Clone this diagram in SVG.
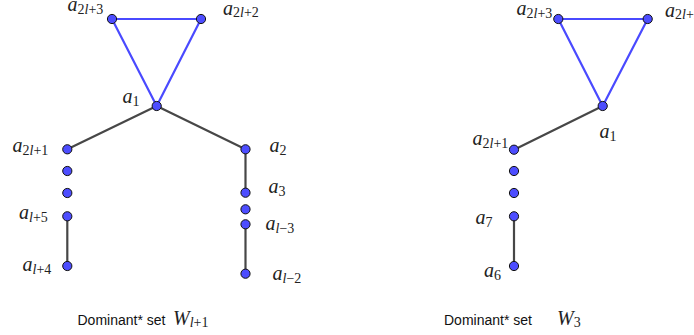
<svg xmlns="http://www.w3.org/2000/svg" width="694" height="335" viewBox="0 0 694 335">
<style>
.bg{fill:#fff}
.be{stroke:#4a4aff;stroke-width:2.2;fill:none;stroke-linecap:round}
.ge{stroke:#474747;stroke-width:2.2;fill:none;stroke-linecap:round}
.nd{fill:#4d4dff;stroke:#111;stroke-width:1}
.m{font-family:"Liberation Serif","Times New Roman",serif;font-size:20px;fill:#222}
.m .i{font-style:italic}
.m .s{font-size:14px}
.t{font-family:"Liberation Sans",Arial,sans-serif;font-size:14px;fill:#111}
</style>
<rect class="bg" x="0" y="0" width="694" height="335"/>
<g id="connectors">
  <line class="be" x1="112" y1="19" x2="201" y2="19"/>
  <line class="be" x1="112" y1="19" x2="156.7" y2="106"/>
  <line class="be" x1="201" y1="19" x2="156.7" y2="106"/>
  <line class="ge" x1="156.7" y1="106" x2="67.3" y2="149.3"/>
  <line class="ge" x1="156.7" y1="106" x2="245.5" y2="149.3"/>
  <line class="ge" x1="245.5" y1="149.3" x2="245.5" y2="192.7"/>
  <line class="ge" x1="245.5" y1="224.3" x2="245.5" y2="273.7"/>
  <line class="ge" x1="67.3" y1="216.3" x2="67.3" y2="266"/>
  <line class="be" x1="558.3" y1="19" x2="647.7" y2="19"/>
  <line class="be" x1="558.3" y1="19" x2="602.7" y2="106"/>
  <line class="be" x1="647.7" y1="19" x2="602.7" y2="106"/>
  <line class="ge" x1="602.7" y1="106" x2="514" y2="149.7"/>
  <line class="ge" x1="514" y1="216.3" x2="514" y2="266"/>
</g>
<g id="left-a2l3"><circle class="nd" cx="112" cy="19" r="4.6"/><text class="m" x="67.5" y="11"><tspan class="i">a</tspan><tspan class="s" dy="2.5">2<tspan class="i">l</tspan>+3</tspan></text></g>
<g id="left-a2l2"><circle class="nd" cx="201" cy="19" r="4.6"/><text class="m" x="223" y="14.5"><tspan class="i">a</tspan><tspan class="s" dy="2.5">2<tspan class="i">l</tspan>+2</tspan></text></g>
<g id="left-a1"><circle class="nd" cx="156.7" cy="106" r="4.6"/><text class="m" x="122.5" y="103"><tspan class="i">a</tspan><tspan class="s" dy="2.5">1</tspan></text></g>
<g id="left-a2l1"><circle class="nd" cx="67.3" cy="149.3" r="4.6"/><text class="m" x="12.5" y="152"><tspan class="i">a</tspan><tspan class="s" dy="2.5">2<tspan class="i">l</tspan>+1</tspan></text></g>
<g id="left-dot1"><circle class="nd" cx="67.3" cy="171" r="4.6"/></g>
<g id="left-dot2"><circle class="nd" cx="67.3" cy="193" r="4.6"/></g>
<g id="left-al5"><circle class="nd" cx="67.3" cy="216.3" r="4.6"/><text class="m" x="19" y="219"><tspan class="i">a</tspan><tspan class="s" dy="2.5"><tspan class="i">l</tspan>+5</tspan></text></g>
<g id="left-al4"><circle class="nd" cx="67.3" cy="266" r="4.6"/><text class="m" x="22.5" y="271"><tspan class="i">a</tspan><tspan class="s" dy="2.5"><tspan class="i">l</tspan>+4</tspan></text></g>
<g id="left-a2"><circle class="nd" cx="245.5" cy="149.3" r="4.6"/><text class="m" x="269.5" y="152"><tspan class="i">a</tspan><tspan class="s" dy="2.5">2</tspan></text></g>
<g id="left-a3"><circle class="nd" cx="245.5" cy="192.7" r="4.6"/><text class="m" x="268.5" y="193"><tspan class="i">a</tspan><tspan class="s" dy="2.5">3</tspan></text></g>
<g id="left-dot3"><circle class="nd" cx="245.5" cy="209.3" r="4.6"/></g>
<g id="left-al3"><circle class="nd" cx="245.5" cy="224.3" r="4.6"/><text class="m" x="265.5" y="230"><tspan class="i">a</tspan><tspan class="s" dy="2.5"><tspan class="i">l</tspan>−3</tspan></text></g>
<g id="left-al2"><circle class="nd" cx="245.5" cy="273.7" r="4.6"/><text class="m" x="272.5" y="280"><tspan class="i">a</tspan><tspan class="s" dy="2.5"><tspan class="i">l</tspan>−2</tspan></text></g>
<g id="left-caption"><text class="t" x="77.5" y="325">Dominant* set</text><text class="m" x="173" y="324.5"><tspan class="i">W</tspan><tspan class="s" dy="2.5"><tspan class="i">l</tspan>+1</tspan></text></g>
<g id="right-a2l3"><circle class="nd" cx="558.3" cy="19" r="4.6"/><text class="m" x="516.5" y="15"><tspan class="i">a</tspan><tspan class="s" dy="2.5">2<tspan class="i">l</tspan>+3</tspan></text></g>
<g id="right-a2l2"><circle class="nd" cx="647.7" cy="19" r="4.6"/><text class="m" x="665" y="16.5"><tspan class="i">a</tspan><tspan class="s" dy="2.5">2<tspan class="i">l</tspan>+2</tspan></text></g>
<g id="right-a1"><circle class="nd" cx="602.7" cy="106" r="4.6"/><text class="m" x="599.5" y="138"><tspan class="i">a</tspan><tspan class="s" dy="2.5">1</tspan></text></g>
<g id="right-a2l1"><circle class="nd" cx="514" cy="149.7" r="4.6"/><text class="m" x="472.5" y="145"><tspan class="i">a</tspan><tspan class="s" dy="2.5">2<tspan class="i">l</tspan>+1</tspan></text></g>
<g id="right-dot1"><circle class="nd" cx="514" cy="171" r="4.6"/></g>
<g id="right-dot2"><circle class="nd" cx="514" cy="193" r="4.6"/></g>
<g id="right-a7"><circle class="nd" cx="514" cy="216.3" r="4.6"/><text class="m" x="475.5" y="224"><tspan class="i">a</tspan><tspan class="s" dy="2.5">7</tspan></text></g>
<g id="right-a6"><circle class="nd" cx="514" cy="266" r="4.6"/><text class="m" x="484" y="277"><tspan class="i">a</tspan><tspan class="s" dy="2.5">6</tspan></text></g>
<g id="right-caption"><text class="t" x="444" y="325">Dominant* set</text><text class="m" x="557" y="324.5"><tspan class="i">W</tspan><tspan class="s" dy="2.5">3</tspan></text></g>
</svg>
